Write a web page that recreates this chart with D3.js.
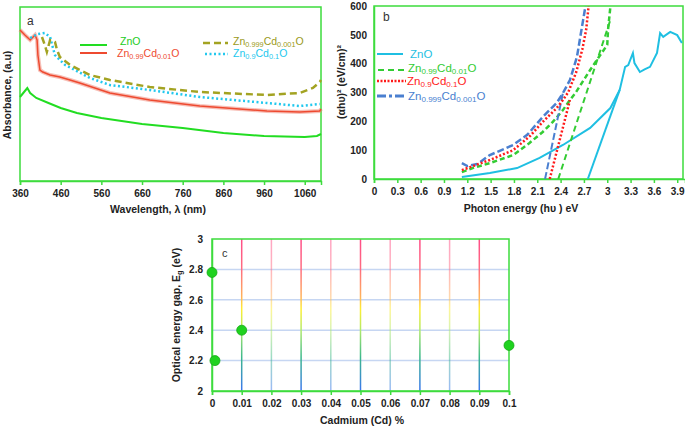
<!DOCTYPE html>
<html><head><meta charset="utf-8">
<script src="https://cdn.jsdelivr.net/npm/d3@7/dist/d3.min.js"></script>
<style>
body{margin:0;background:#fff;}
svg{font-family:"Liberation Sans",Arial,sans-serif;}
.tick text{font-weight:bold;font-size:10px;fill:#222;}
.title{font-weight:bold;font-size:10.5px;fill:#222;}
</style></head>
<body><svg id="c" width="685" height="430"></svg>
<script>
// ---------- Panel a: absorbance ----------
const aTicks = [360,460,560,660,760,860,960,1060];
const aZnOWl = [360,370,378,385,400,430,460,500,560,660,760,860,960,1060,1090,1100];
const aZnO   = [0.84,0.89,0.93,0.88,0.83,0.78,0.73,0.68,0.63,0.57,0.53,0.48,0.45,0.44,0.45,0.47];
const aCd01Wl = [360,372,385,397,402,404,409,416,434,458,483,507,581,679,802,967,1048,1097,1100];
const aCd01   = [1.51,1.46,1.41,1.46,1.41,1.26,1.11,1.09,1.06,1.04,1.01,0.98,0.88,0.81,0.75,0.70,0.69,0.70,0.72];
const aCd0001Wl = [414,421,426,434,446,451,458,483,507,532,581,679,802,967,1048,1080,1097,1100];
const aCd0001   = [1.44,1.36,1.29,1.41,1.39,1.31,1.24,1.16,1.11,1.06,1.01,0.94,0.89,0.86,0.88,0.93,0.99,1.01];
const aCd1Wl = [385,404,421,434,439,446,458,471,495,532,581,679,802,967,1048,1097];
const aCd1   = [1.43,1.47,1.48,1.44,1.36,1.26,1.21,1.16,1.11,1.03,0.96,0.91,0.84,0.78,0.75,0.77];

// ---------- Panel b: Tauc plot ----------
const bTicks = [0,0.3,0.6,0.9,1.2,1.5,1.8,2.1,2.4,2.7,3,3.3,3.6,3.9];
const bYTicks = [0,100,200,300,400,500,600];
const bZnOE = [1.13,1.49,1.84,2.13,2.43,2.78,3.04,3.16,3.23,3.27,3.33,3.35,3.42,3.48,3.55,3.64,3.68,3.72,3.81,3.9,3.96];
const bZnO  = [7,21,38,73,118,177,246,309,389,395,437,402,371,380,389,437,506,493,510,499,472];
const bZnOFitE = [2.75,3.16], bZnOFit = [0,309];
const bCd01E = [1.13,1.27,1.49,1.79,2.0,2.17,2.30,2.43,2.52,2.59,2.68,2.78,2.91,3.0,3.01,3.04];
const bCd01  = [24,38,55,83,125,163,198,239,274,298,336,378,430,465,517,597];
const bCd01FitE = [2.37,3.05], bCd01Fit = [0,560];
const bCd1E = [1.13,1.49,1.79,2.01,2.17,2.35,2.43,2.5,2.6,2.68,2.73,2.76];
const bCd1  = [31,66,100,150,198,246,274,302,370,450,520,600];
const bCd1FitE = [2.26,2.52], bCd1Fit = [0,274];
const bCd0001E = [1.13,1.2,1.33,1.49,1.79,1.97,2.17,2.35,2.43,2.52,2.61,2.69,2.72];
const bCd0001  = [55,45,52,83,118,153,215,264,298,343,423,552,600];
const bCd0001FitE = [2.2,2.43], bCd0001Fit = [0,298];

// ---------- Panel c: band gap ----------
const cTicks = [0,0.01,0.02,0.03,0.04,0.05,0.06,0.07,0.08,0.09,0.1];
const cYTicks = [2,2.2,2.4,2.6,2.8,3];
const cCd = [0,0.001,0.01,0.1];
const cEg = [2.78,2.2,2.4,2.3];

const svg = d3.select("#c");
const FR = "#3ddc3d";
const zip = (xs, ys) => xs.map((x,i)=>[x,ys[i]]);

function richText(g, x, y, parts, color, size){
  const t = g.append("text").attr("x",x).attr("y",y).attr("fill",color).attr("font-size",size);
  parts.forEach(p=>{
    const s = t.append("tspan").text(p[0]);
    if(p[1]==="sub") s.attr("font-size",size*0.7).attr("baseline-shift","-22%");
  });
  return t;
}
const nm = (a,b)=>[["Zn"],[a,"sub"],["Cd"],[b,"sub"],["O"]];

// ===== Panel a =====
{
  const x = d3.scaleLinear().domain([360,1100]).range([20,321]);
  const y = d3.scaleLinear().domain([0,1.74]).range([181,7]);
  const g = svg.append("g");
  const line = d3.line().x(d=>x(d[0])).y(d=>y(d[1]));
  g.append("rect").attr("x",20).attr("y",7).attr("width",301).attr("height",174)
    .attr("fill","none").attr("stroke",FR).attr("stroke-width",1.5);
  const ax = g.append("g").attr("transform","translate(0,181)")
    .call(d3.axisBottom(x).tickValues(aTicks).tickFormat(d3.format("d")).tickSize(4).tickPadding(5));
  ax.selectAll("line,path").attr("stroke",FR).attr("stroke-width",1.5);
  g.append("path").datum(zip(aZnOWl,aZnO)).attr("d",line).attr("fill","none").attr("stroke","#22dd22").attr("stroke-width",2);
  g.append("path").datum(zip(aCd01Wl,aCd01)).attr("d",line).attr("fill","none").attr("stroke","#f08070").attr("stroke-width",4).attr("opacity",0.5);
  g.append("path").datum(zip(aCd01Wl,aCd01)).attr("d",line).attr("fill","none").attr("stroke","#ee4a30").attr("stroke-width",1.5);
  g.append("path").datum(zip(aCd1Wl,aCd1)).attr("d",line).attr("fill","none").attr("stroke","#22c8ee").attr("stroke-width",2.5).attr("stroke-dasharray","2,2.5");
  g.append("path").datum(zip(aCd0001Wl,aCd0001)).attr("d",line).attr("fill","none").attr("stroke","#a3a322").attr("stroke-width",2.5).attr("stroke-dasharray","7,4");
  g.append("text").attr("x",27).attr("y",25).attr("font-size",12).attr("fill","#333").text("a");
  // legend
  g.append("line").attr("x1",80).attr("x2",107).attr("y1",45).attr("y2",45).attr("stroke","#22dd22").attr("stroke-width",2);
  g.append("line").attr("x1",80).attr("x2",107).attr("y1",53).attr("y2",53).attr("stroke","#ee4a30").attr("stroke-width",2);
  g.append("line").attr("x1",203).attr("x2",228).attr("y1",43).attr("y2",43).attr("stroke","#a3a322").attr("stroke-width",2.5).attr("stroke-dasharray","7,4");
  g.append("line").attr("x1",205).attr("x2",228).attr("y1",54).attr("y2",54).attr("stroke","#22c8ee").attr("stroke-width",2.5).attr("stroke-dasharray","2,2.5");
  richText(g,120,45,[["ZnO"]],"#22cc22",10.5);
  richText(g,117,57,nm("0.99","0.01"),"#ee4a30",10.5);
  richText(g,233,45,nm("0.999","0.001"),"#9a9a1a",10.5);
  richText(g,233,57,nm("0.9","0.1"),"#22c8ee",10.5);
  g.append("text").attr("class","title").attr("x",158).attr("y",213).attr("text-anchor","middle").text("Wavelength, λ (nm)");
  g.append("text").attr("class","title").attr("transform","translate(11,95) rotate(-90)").attr("text-anchor","middle").text("Absorbance, (a.u)");
}

// ===== Panel b =====
{
  const x = d3.scaleLinear().domain([0,4]).range([374,685]);
  const y = d3.scaleLinear().domain([0,600]).range([179,6]);
  const g = svg.append("g");
  const clipId="clipb";
  g.append("clipPath").attr("id",clipId).append("rect").attr("x",374).attr("y",6).attr("width",311).attr("height",173);
  const line = d3.line().x(d=>x(d[0])).y(d=>y(d[1]));
  g.append("rect").attr("x",374).attr("y",6).attr("width",309).attr("height",173)
    .attr("fill","none").attr("stroke",FR).attr("stroke-width",1.5);
  const ax = g.append("g").attr("transform","translate(0,179)")
    .call(d3.axisBottom(x).tickValues(bTicks).tickFormat(d=>String(d)).tickSize(4).tickPadding(5));
  ax.selectAll("line,path").attr("stroke",FR).attr("stroke-width",1.5);
  const ay = g.append("g").attr("transform","translate(374,0)")
    .call(d3.axisLeft(y).tickValues(bYTicks).tickSize(0).tickPadding(7));
  ay.selectAll("path").attr("stroke",FR).attr("stroke-width",1.5);
  const pl = g.append("g").attr("clip-path",`url(#${clipId})`);
  const C_ZNO="#1fbfe2", C_G="#33cc33", C_R="#ff1a1a", C_B="#4a7fd0";
  pl.append("path").datum(zip(bZnOE,bZnO)).attr("d",line).attr("fill","none").attr("stroke",C_ZNO).attr("stroke-width",2);
  pl.append("path").datum(zip(bZnOFitE,bZnOFit)).attr("d",line).attr("fill","none").attr("stroke",C_ZNO).attr("stroke-width",2);
  pl.append("path").datum(zip(bCd01E,bCd01)).attr("d",line).attr("fill","none").attr("stroke",C_G).attr("stroke-width",2.5).attr("stroke-dasharray","5,3");
  pl.append("path").datum(zip(bCd01FitE,bCd01Fit)).attr("d",line).attr("fill","none").attr("stroke",C_G).attr("stroke-width",2).attr("stroke-dasharray","6,4");
  pl.append("path").datum(zip(bCd0001E,bCd0001)).attr("d",line).attr("fill","none").attr("stroke",C_B).attr("stroke-width",2.5).attr("stroke-dasharray","7,3");
  pl.append("path").datum(zip(bCd0001FitE,bCd0001Fit)).attr("d",line).attr("fill","none").attr("stroke",C_B).attr("stroke-width",2).attr("stroke-dasharray","7,3");
  pl.append("path").datum(zip(bCd1E,bCd1)).attr("d",line).attr("fill","none").attr("stroke",C_R).attr("stroke-width",2.5).attr("stroke-dasharray","2,2");
  pl.append("path").datum(zip(bCd1FitE,bCd1Fit)).attr("d",line).attr("fill","none").attr("stroke",C_R).attr("stroke-width",2.5).attr("stroke-dasharray","2,2");
  g.append("text").attr("x",383).attr("y",21).attr("font-size",12).attr("fill","#333").text("b");
  // legend
  g.append("line").attr("x1",377).attr("x2",403).attr("y1",54).attr("y2",54).attr("stroke",C_ZNO).attr("stroke-width",2);
  g.append("line").attr("x1",378).attr("x2",404).attr("y1",70).attr("y2",70).attr("stroke",C_G).attr("stroke-width",2).attr("stroke-dasharray","6,4");
  g.append("line").attr("x1",377).attr("x2",406).attr("y1",81).attr("y2",81).attr("stroke",C_R).attr("stroke-width",2.5).attr("stroke-dasharray","2,1.5");
  g.append("line").attr("x1",377).attr("x2",406).attr("y1",96).attr("y2",96).attr("stroke",C_B).attr("stroke-width",3).attr("stroke-dasharray","9,3,3,3");
  richText(g,410,58,[["ZnO"]],C_ZNO,11.5);
  richText(g,408,72,nm("0.99","0.01"),C_G,11.5);
  richText(g,407,85,nm("0.9","0.1"),C_R,11.5);
  richText(g,408,100,nm("0.999","0.001"),C_B,11.5);
  g.append("text").attr("class","title").attr("x",521).attr("y",212).attr("text-anchor","middle").text("Photon energy (hυ ) eV");
  g.append("text").attr("class","title").attr("transform","translate(345,82) rotate(-90)").attr("text-anchor","middle").text("(αhυ)² (eV/cm)²");
}

// ===== Panel c =====
{
  const x = d3.scaleLinear().domain([0,0.1]).range([212,509]);
  const y = d3.scaleLinear().domain([2,3]).range([391,239]);
  const g = svg.append("g");
  const defs = g.append("defs");
  const gr = defs.append("linearGradient").attr("id","vgrad").attr("gradientUnits","userSpaceOnUse")
    .attr("x1",0).attr("x2",0).attr("y1",239).attr("y2",391);
  [[0,"#ff4d88"],[0.2,"#ff6d80"],[0.38,"#ffb25a"],[0.46,"#ffee30"],[0.6,"#b0ea6a"],[0.78,"#3cb88c"],[1,"#3a76f0"]]
    .forEach(s=>gr.append("stop").attr("offset",s[0]).attr("stop-color",s[1]));
  g.selectAll(".hg").data(cYTicks.filter(v=>v>2&&v<3)).enter().append("line")
    .attr("x1",212).attr("x2",509).attr("y1",d=>y(d)).attr("y2",d=>y(d))
    .attr("stroke","#c6d6f2").attr("stroke-width",1.5);
  g.selectAll(".vg").data(cTicks.filter(v=>v>0&&v<0.1)).enter().append("line")
    .attr("x1",d=>x(d)).attr("x2",d=>x(d)).attr("y1",239).attr("y2",391)
    .attr("stroke","url(#vgrad)").attr("stroke-width",1.5)
    .attr("opacity",(d,i)=>i%2===0?1:0.5);
  g.append("rect").attr("x",212).attr("y",239).attr("width",297).attr("height",152)
    .attr("fill","none").attr("stroke",FR).attr("stroke-width",1.5);
  const ax = g.append("g").attr("transform","translate(0,391)")
    .call(d3.axisBottom(x).tickValues(cTicks).tickFormat(d=>String(d)).tickSize(4).tickPadding(5));
  ax.selectAll("line,path").attr("stroke",FR).attr("stroke-width",1.5);
  const ay = g.append("g").attr("transform","translate(212,0)")
    .call(d3.axisLeft(y).tickValues(cYTicks).tickFormat(d=>String(d)).tickSize(0).tickPadding(9));
  ay.selectAll("path").attr("stroke",FR).attr("stroke-width",1.5);
  g.selectAll(".pt").data(zip(cCd,cEg)).enter().append("circle")
    .attr("cx",d=>x(d[0])).attr("cy",d=>y(d[1])).attr("r",5)
    .attr("fill","#1fd21f").attr("stroke","#17a817").attr("stroke-width",0.8);
  g.append("text").attr("x",222).attr("y",257).attr("font-size",11).attr("fill","#333").text("c");
  g.append("text").attr("class","title").attr("x",362).attr("y",424).attr("text-anchor","middle").text("Cadmium (Cd) %");
  const yt = g.append("text").attr("class","title").attr("transform","translate(180,315) rotate(-90)").attr("text-anchor","middle");
  yt.append("tspan").text("Optical energy gap, E");
  yt.append("tspan").text("g").attr("font-size",7.5).attr("baseline-shift","-25%");
  yt.append("tspan").text(" (eV)");
}
</script></body></html>
